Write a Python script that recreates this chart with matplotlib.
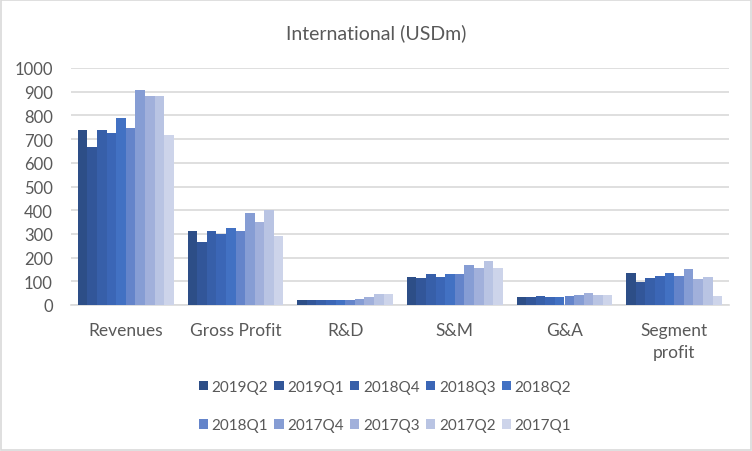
import matplotlib
matplotlib.use("Agg")
import matplotlib.pyplot as plt
import numpy as np
from matplotlib.patches import Rectangle

categories = ["Revenues", "Gross Profit", "R&D", "S&M", "G&A", "Segment\nprofit"]
series_names = ["2019Q2", "2019Q1", "2018Q4", "2018Q3", "2018Q2",
                "2018Q1", "2017Q4", "2017Q3", "2017Q2", "2017Q1"]
values = {
    "2019Q2": [739, 311, 20, 118, 33, 134],
    "2019Q1": [667, 265, 20, 114, 33, 95],
    "2018Q4": [739, 311, 23, 129, 37, 112],
    "2018Q3": [726, 300, 20, 118, 33, 121],
    "2018Q2": [790, 324, 23, 129, 33, 137],
    "2018Q1": [747, 311, 20, 129, 37, 121],
    "2017Q4": [909, 388, 25, 167, 41, 150],
    "2017Q3": [883, 350, 33, 155, 50, 108],
    "2017Q2": [883, 400, 45, 184, 41, 118],
    "2017Q1": [718, 290, 45, 155, 44, 37],
}
colors = ["#2D4E87", "#325699", "#375FA9", "#3B66B6", "#4271C3",
          "#6484CA", "#869DD4", "#A1B0DB", "#B9C4E3", "#CDD4EA"]

plt.rcParams['font.family'] = ['Lato', 'DejaVu Sans']
fig = plt.figure(figsize=(7.52, 4.52), dpi=100)
ax = fig.add_axes([71/752, 1-306/452, (729-71)/752, (306-69)/452])

n = len(series_names)
x = np.arange(len(categories))
group_w = 0.875
bw = group_w / n
for i, s in enumerate(series_names):
    ax.bar(x - group_w/2 + bw*(i+0.5), values[s], width=bw, color=colors[i],
           label=s, zorder=3, linewidth=0)

ax.set_xlim(-0.5, len(categories)-0.5)
ax.set_ylim(0, 1000)
ax.set_yticks(range(0, 1001, 100))
ax.yaxis.grid(True, color="#D9D9D9", linewidth=1.2, zorder=0)
ax.set_axisbelow(True)
for sp in ["top", "right", "left"]:
    ax.spines[sp].set_visible(False)
ax.spines["bottom"].set_color("#D9D9D9")
ax.spines["bottom"].set_linewidth(1.2)
ax.tick_params(axis="both", length=0, colors="#595959", labelsize=12)
ax.tick_params(axis="y", pad=13)
ax.tick_params(axis="x", pad=12)
ax.set_xticks(x)
ax.set_xticklabels(categories, color="#595959", fontsize=12.5, linespacing=1.45)

fig.text(0.5, 1-33/452, "International (USDm)", ha="center", va="center",
         fontsize=14, color="#595959")

handles, labels = ax.get_legend_handles_labels()
order = [0, 5, 1, 6, 2, 7, 3, 8, 4, 9]
handles = [handles[k] for k in order]
labels = [labels[k] for k in order]
leg = fig.legend(handles, labels, loc="center", bbox_to_anchor=(385/752, 1-407/452),
                 ncol=5, frameon=False, fontsize=11, handlelength=0.6,
                 handleheight=0.6, handletextpad=0.25, columnspacing=0.4,
                 labelspacing=1.6, labelcolor="#595959")

fig.patches.append(Rectangle((1/752, 1/452), 750/752, 450/452, transform=fig.transFigure,
                             fill=False, edgecolor="#D9D9D9", linewidth=1.2))
fig.savefig("out.png", dpi=100)
